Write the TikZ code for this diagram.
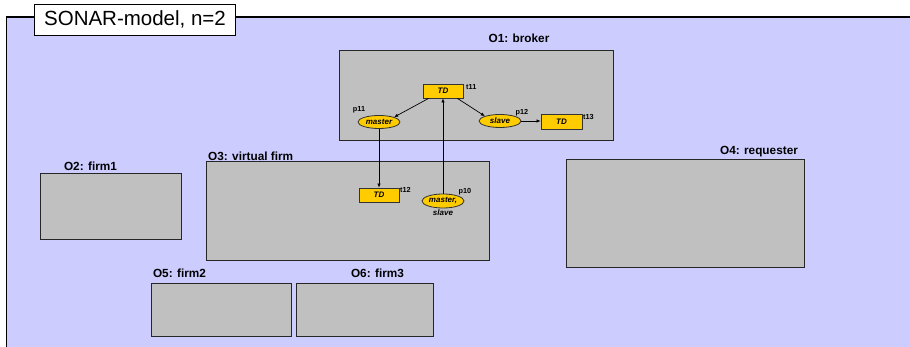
\documentclass[tikz,border=0pt]{standalone}
\usepackage{fontspec}
\setmainfont{Liberation Sans}
\usetikzlibrary{shapes.geometric,arrows.meta}
\definecolor{lav}{HTML}{CCCCFF}
\definecolor{boxgray}{HTML}{C0C0C0}
\definecolor{gold}{HTML}{FFCC00}
\tikzset{
  orgbox/.style={draw=black!85,line width=1pt,fill=boxgray,inner sep=0pt,minimum width=#1},
  orglabel/.style={font=\fontsize{11.8}{13}\selectfont\bfseries,inner sep=0pt},
  trans/.style={draw=black!80,line width=0.8pt,fill=gold,inner sep=0pt,minimum width=40pt,minimum height=14pt,font=\fontsize{8}{9}\selectfont\bfseries\itshape},
  place/.style={ellipse,draw=black!80,line width=0.8pt,fill=gold,inner sep=0pt,minimum width=42pt,minimum height=13pt,font=\fontsize{8}{9}\selectfont\bfseries\itshape},
  small/.style={font=\fontsize{7.3}{8}\selectfont\bfseries,inner sep=0pt},
  arc/.style={line width=0.7pt,-{Latex[length=4pt,width=3.5pt]}}
}
\begin{document}
\begin{tikzpicture}[x=1pt,y=-1pt]
\useasboundingbox (0,0) rectangle (910,347);
\clip (0,0) rectangle (910,347);
\fill[white] (0,0) rectangle (910,347);
\draw[fill=lav,line width=1.2pt] (6.5,17) rectangle (925,360);
\node[draw,line width=0.9pt,fill=white,minimum width=201pt,minimum height=31pt,inner sep=0pt,font=\fontsize{20.5}{24}\selectfont] (title) at (135,19.5) {SONAR-model, n=2};
% organisation boxes
\node[orgbox=274pt,minimum height=90pt] (o1) at (476,96) {};
\node[orglabel] (o1l) at (519,38) {O1: broker};
\node[orgbox=283pt,minimum height=99pt] (o3) at (347.5,211.5) {};
\node[orglabel,anchor=west] (o3l) at (208,156) {O3: virtual firm};
\node[orgbox=141pt,minimum height=66pt] (o2) at (110.5,207) {};
\node[orglabel] (o2l) at (90.5,166) {O2: firm1};
\node[orgbox=238pt,minimum height=108pt] (o4) at (685,214) {};
\node[orglabel] (o4l) at (759,152) {O4: requester};
\node[orgbox=140pt,minimum height=52pt] (o5) at (221,310) {};
\node[orglabel] (o5l) at (179.5,273) {O5: firm2};
\node[orgbox=137pt,minimum height=52pt] (o6) at (364.5,310) {};
\node[orglabel] (o6l) at (377.5,273) {O6: firm3};
% net
\node[trans] (t11) at (443,91) {TD};
\node[small,anchor=west] (t11l) at (466,87) {t11};
\node[trans,minimum width=41pt,minimum height=15pt] (t13) at (561.5,121.5) {TD};
\node[small,anchor=west] (t13l) at (583,116.5) {t13};
\node[trans] (t12) at (379,195) {TD};
\node[small,anchor=west] (t12l) at (400,190) {t12};
\node[place] (p11) at (379,122) {master};
\node[small] (p11l) at (359,110) {p11};
\node[place] (p12) at (500,121) {slave};
\node[small] (p12l) at (522,113) {p12};
\node[place,minimum height=14pt] (p10) at (443,201) {master,};
\node[font=\fontsize{8}{9}\selectfont\bfseries\itshape,inner sep=0pt] (p10b) at (443,213) {slave};
\node[small] (p10l) at (465,192) {p10};
\draw[arc] ([xshift=6pt]t11.south west) -- (p11.north east);
\draw[arc] ([xshift=-6pt]t11.south east) -- (p12.north west);
\draw[arc] (p12.east) -- (p12.east -| t13.west);
\draw[arc] (p11.south) -- (t12.north);
\draw[arc] (p10.north) -- (t11.south);
\end{tikzpicture}
\end{document}
